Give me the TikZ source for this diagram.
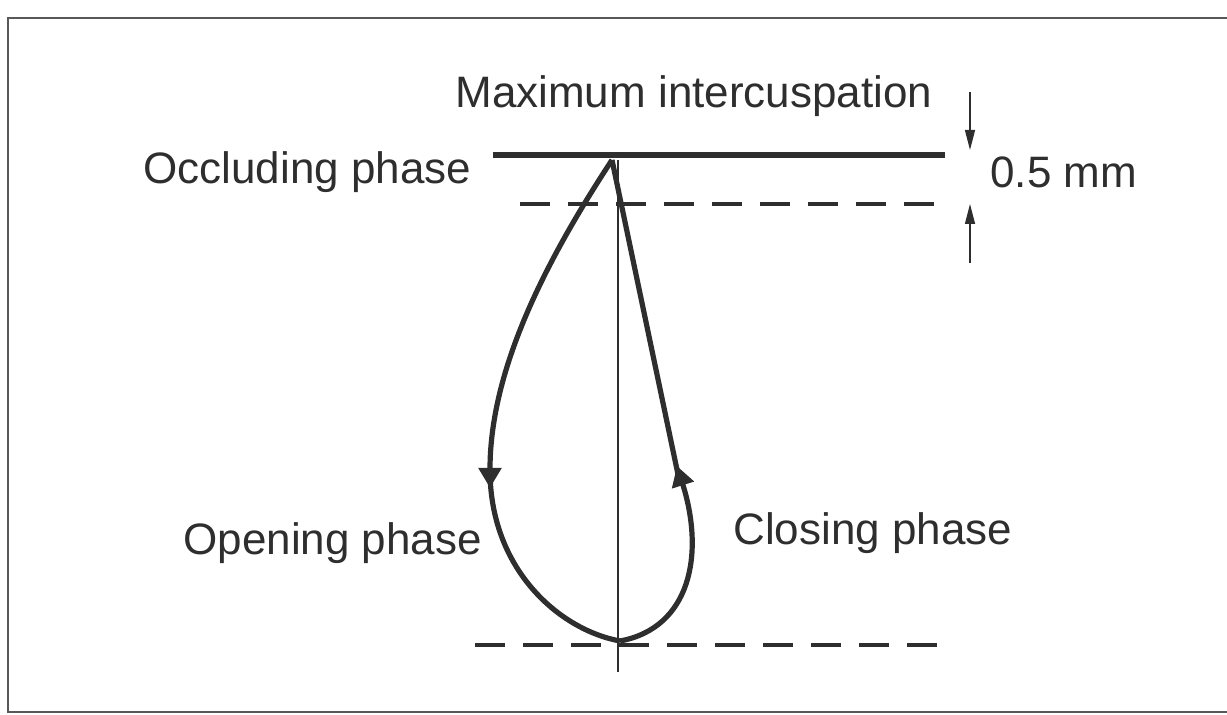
\documentclass[tikz,border=0pt]{standalone}
\usepackage{fontspec}
\setmainfont{Liberation Sans}
\usepackage{xcolor}
\usetikzlibrary{arrows.meta, positioning}

\definecolor{inkgray}{HTML}{2E2E2E}
\tikzset{
  lbl/.style={anchor=base west, text=inkgray, inner sep=0pt, font=\fontsize{22}{24}\selectfont},
  loopline/.style={line width=2.6pt, inkgray},
  tip/.style={-{Triangle[width=11pt,length=10pt]}},
  guide/.style={line width=2pt, inkgray, dash pattern=on 15pt off 9pt},
  dimarrow/.style={line width=0.7pt, inkgray, -{Triangle[width=5pt,length=10pt]}}
}

\begin{document}
\begin{tikzpicture}[x=0.5pt, y=-0.5pt]
\useasboundingbox (0,0) rectangle (1227,715);
\draw[line width=1.2pt, inkgray!80] (1240,18) -- (8,18) -- (8,712) -- (1240,712);

% reference lines
\draw[line width=2.6pt, inkgray] (493,155) coordinate (mi) -- (945,155) coordinate (mi2);
\draw[guide] (520,204) -- (945,204);
\draw[guide] (475,645) -- (945,645);
\draw[line width=0.75pt, inkgray] (618,160) -- (618,672);

% the chewing loop
\coordinate (top) at (612,160);
\coordinate (bot) at (620,641);
\coordinate (la) at (490,488);
\coordinate (la0) at (490,470);
\coordinate (ra) at (677,466);
\coordinate (ra0) at (680,484);
\draw[loopline, tip] (top) .. controls (545,262) and (490,370) .. (la);
\draw[loopline] (la0) .. controls (490,570) and (560,630) .. (bot);
\draw[loopline, tip] (bot) .. controls (690,628) and (705,555) .. (ra);
\draw[loopline] (ra0) -- (top);

% 0.5 mm
\coordinate (d1) at (970,92);
\coordinate (d2) at (970,263);
\draw[dimarrow] (d1) -- (970,150);
\draw[dimarrow] (d2) -- (970,204);

\node[lbl] (maxi) at (455,108) {Maximum intercuspation};
\node[lbl] (occl) at (143,184) {Occluding phase};
\node[lbl] (dist) at (990,188) {0.5 mm};
\node[lbl] (open) at (183,555) {Opening phase};
\node[lbl] (clos) at (733,545) {Closing phase};
\end{tikzpicture}
\end{document}
